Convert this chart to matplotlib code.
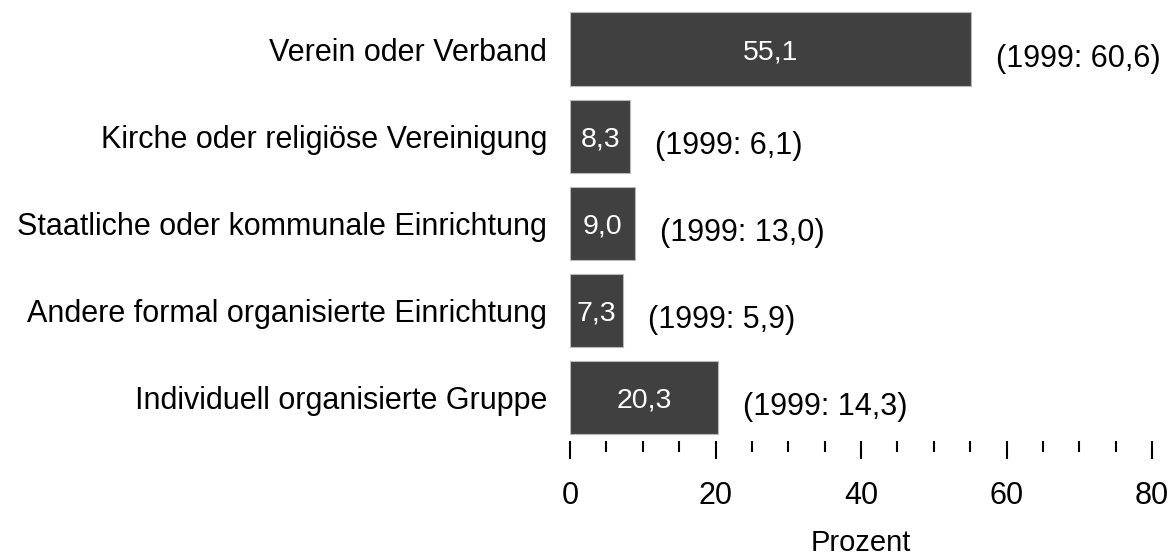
import matplotlib.pyplot as plt
from matplotlib.ticker import MultipleLocator

plt.rcParams['font.family'] = ['Liberation Sans', 'DejaVu Sans']

categories = ["Verein oder Verband",
              "Kirche oder religiöse Vereinigung",
              "Staatliche oder kommunale Einrichtung",
              "Andere formal organisierte Einrichtung",
              "Individuell organisierte Gruppe"]
values_2004 = [55.1, 8.3, 9.0, 7.3, 20.3]
values_1999 = [60.6, 6.1, 13.0, 5.9, 14.3]

def de(v):
    return f"{v:.1f}".replace(".", ",")

fig = plt.figure(figsize=(11.73, 5.59), dpi=100)
ax = fig.add_axes([570 / 1173, 118 / 559, 582 / 1173, 435.5 / 559])

pos = range(len(categories))
ax.barh(pos, values_2004, height=0.84, color="#404040",
        edgecolor="#b8b8b8", linewidth=0.8)

for i, (v, old) in enumerate(zip(values_2004, values_1999)):
    ax.text(v / 2, i, de(v), color="white", fontsize=20.5,
            ha="center", va="center_baseline")
    ax.annotate(f"(1999: {de(old)})", xy=(v, i), xytext=(18, -7),
                textcoords="offset points", fontsize=22,
                ha="left", va="center", annotation_clip=False)

ax.set_xlim(0, 80)
ax.set_ylim(4.5, -0.5)
ax.set_yticks(list(pos))
ax.set_yticklabels(categories, fontsize=22)
ax.xaxis.set_major_locator(MultipleLocator(20))
ax.xaxis.set_minor_locator(MultipleLocator(5))
ax.tick_params(axis="y", length=0, pad=16.5)
ax.tick_params(axis="x", which="major", length=13, width=1.5,
               labelsize=22, pad=16)
ax.tick_params(axis="x", which="minor", length=8, width=1.5)
for s in ax.spines.values():
    s.set_visible(False)
ax.set_xlabel("Prozent", fontsize=21, labelpad=13)

fig.savefig("out.png", dpi=100)
